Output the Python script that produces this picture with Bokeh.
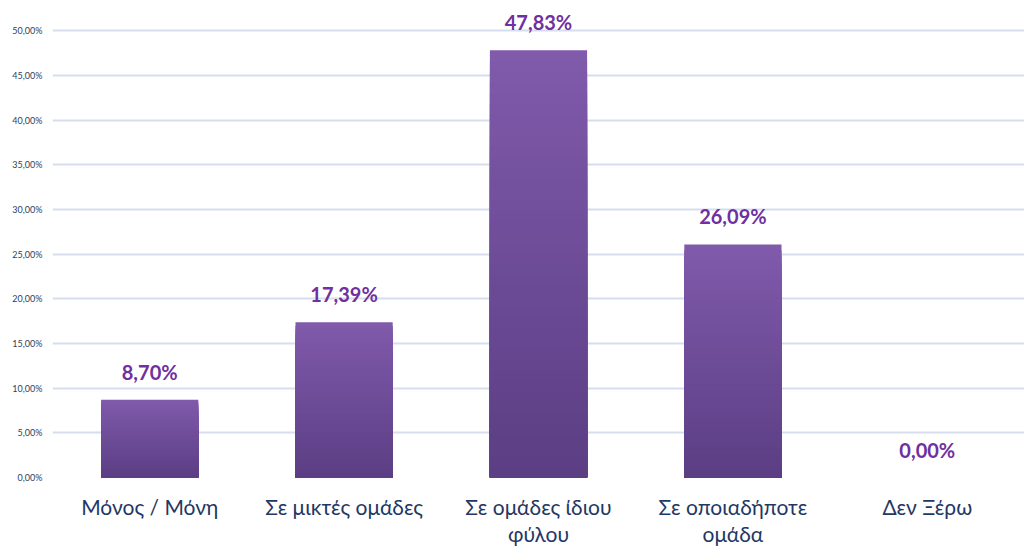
from bokeh.plotting import figure
from bokeh.models import FactorRange, Range1d, FixedTicker, ColumnDataSource
from bokeh.embed import file_html
from bokeh.resources import INLINE
from bokeh.core.properties import value

categories = ["Μόνος / Μόνη", "Σε μικτές ομάδες", "Σε ομάδες ίδιου\nφύλου",
              "Σε οποιαδήποτε\nομάδα", "Δεν Ξέρω"]
values = [8.70, 17.39, 47.83, 26.09, 0.00]
value_labels = ["8,70%", "17,39%", "47,83%", "26,09%", "0,00%"]
y_ticks = [0, 5, 10, 15, 20, 25, 30, 35, 40, 45, 50]
y_tick_labels = ["0,00%", "5,00%", "10,00%", "15,00%", "20,00%", "25,00%",
                 "30,00%", "35,00%", "40,00%", "45,00%", "50,00%"]

p = figure(frame_width=972, frame_height=469, x_range=FactorRange(*categories),
           y_range=Range1d(0, 52.5), output_backend="svg", toolbar_location=None)
p.min_border_top = 8
p.min_border_right = 0
p.min_border_left = 52
p.min_border_bottom = 10
p.outline_line_color = None
p.background_fill_color = "white"
p.border_fill_color = "white"

# gradient bars: overlapping layers from light (full height) to dark (short)
top_rgb = (0x80, 0x5A, 0xAC)
bot_rgb = (0x5B, 0x3E, 0x83)
N = 40
xs, bots, tops, cols = [], [], [], []
for i in range(N - 1, -1, -1):
    t = (i + 0.5) / N
    rgb = tuple(int(round(b + (a - b) * t)) for a, b in zip(top_rgb, bot_rgb))
    for c, v in zip(categories, values):
        if v <= 0:
            continue
        xs.append(c)
        bots.append(0)
        tops.append(v * (i + 1) / N)
        cols.append("#%02x%02x%02x" % rgb)
src = ColumnDataSource(dict(x=xs, bottom=bots, top=tops, color=cols))
p.vbar(x="x", bottom="bottom", top="top", width=0.5, source=src,
       fill_color="color", line_color=None)

lab = ColumnDataSource(dict(x=categories, y=values, t=value_labels))
p.text(x="x", y="y", text="t", source=lab, text_align="center",
       text_baseline="bottom", y_offset=-16, text_font=value("Lato"),
       text_font_style="bold", text_font_size="20px", text_color="#7030A0")

p.yaxis.ticker = FixedTicker(ticks=y_ticks)
p.yaxis.major_label_overrides = {t: l for t, l in zip(y_ticks, y_tick_labels)}
p.yaxis.axis_line_color = None
p.yaxis.major_tick_line_color = None
p.yaxis.minor_tick_line_color = None
p.yaxis.major_tick_out = 0
p.yaxis.major_tick_in = 0
p.yaxis.major_label_text_font = "Lato"
p.yaxis.major_label_text_font_size = "9px"
p.yaxis.major_label_text_color = "#2F3E5C"
p.yaxis.major_label_standoff = 10

p.xaxis.axis_line_color = None
p.xaxis.major_tick_line_color = None
p.xaxis.minor_tick_line_color = None
p.xaxis.major_tick_out = 0
p.xaxis.major_tick_in = 0
p.xaxis.major_label_text_font = "Lato"
p.xaxis.major_label_text_font_size = "21px"
p.xaxis.major_label_text_line_height = 1.1
p.xaxis.major_label_text_color = "#1F3864"
p.xaxis.major_label_standoff = 16

p.xgrid.grid_line_color = None
p.ygrid.grid_line_color = "#D6DEEE"
p.ygrid.grid_line_width = 2
p.ygrid.level = "underlay"

open("out.html", "w").write(file_html(p, INLINE))
